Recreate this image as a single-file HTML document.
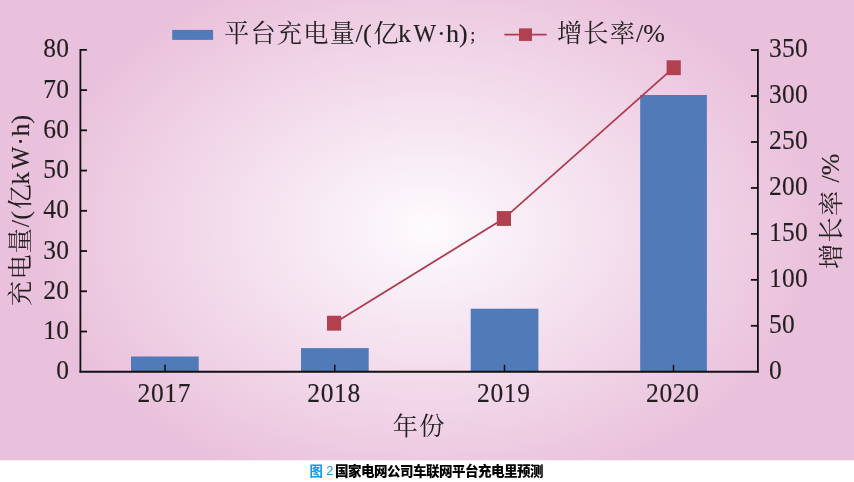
<!DOCTYPE html>
<html lang="zh"><head><meta charset="utf-8"><title>图2 国家电网公司车联网平台充电量预测</title>
<style>
html,body{margin:0;padding:0;background:#fff;}
body{width:854px;height:482px;overflow:hidden;font-family:"Liberation Serif",serif;}
svg{display:block;will-change:transform;}
</style></head><body>
<svg width="854" height="482" viewBox="0 0 854 482">
<defs><radialGradient id="bg" gradientUnits="userSpaceOnUse" cx="427" cy="228" r="390" gradientTransform="translate(427,228) scale(1,0.6974) translate(-427,-228)"><stop offset="0" stop-color="#fdfbfe"/><stop offset="1" stop-color="#eac1dc"/></radialGradient></defs>
<rect x="0" y="0" width="854" height="482" fill="#fff"/>
<rect x="0" y="0" width="854" height="460.3" fill="url(#bg)"/>
<g fill="#517bb8">
<rect x="131.0" y="356.5" width="67.7" height="15.25"/>
<rect x="301.0" y="348.1" width="67.7" height="23.65"/>
<rect x="470.7" y="308.7" width="67.7" height="63.05"/>
<rect x="640.2" y="95.0" width="66.7" height="276.75"/>
</g>
<g stroke="#111111" stroke-width="1.8" fill="none">
<path d="M80.4,49.05 V372.60"/>
<path d="M757.9,49.05 V372.60"/>
<path d="M79.60,371.75 H758.70"/>
<path d="M80.4,49.85 h6.6"/>
<path d="M80.4,90.09 h6.6"/>
<path d="M80.4,130.32 h6.6"/>
<path d="M80.4,170.56 h6.6"/>
<path d="M80.4,210.80 h6.6"/>
<path d="M80.4,251.04 h6.6"/>
<path d="M80.4,291.27 h6.6"/>
<path d="M80.4,331.51 h6.6"/>
<path d="M757.9,50.10 h-7"/>
<path d="M757.9,96.05 h-7"/>
<path d="M757.9,142.00 h-7"/>
<path d="M757.9,187.95 h-7"/>
<path d="M757.9,233.90 h-7"/>
<path d="M757.9,279.85 h-7"/>
<path d="M757.9,325.80 h-7"/>
<path d="M165.0,371.75 v-6.9" stroke-width="1.5"/>
<path d="M334.8,371.75 v-6.9" stroke-width="1.5"/>
<path d="M504.5,371.75 v-6.9" stroke-width="1.5"/>
<path d="M673.5,371.75 v-6.9" stroke-width="1.5"/>
</g>
<polyline points="334.1,323.2 503.9,218.5 673.7,67.7" fill="none" stroke="#b03a4e" stroke-width="1.8"/>
<g fill="#b2414f">
<rect x="327.00" y="315.75" width="14.2" height="14.9"/>
<rect x="496.80" y="211.05" width="14.2" height="14.9"/>
<rect x="666.60" y="60.25" width="14.2" height="14.9"/>
</g>
<g fill="#231f20">
<text font-family="Liberation Serif" font-size="25.5" transform="translate(0,57.45) scale(1,1.075)" x="43.25 56.35" y="0" stroke="#231f20" stroke-width="0.14">80</text>
<text font-family="Liberation Serif" font-size="25.5" transform="translate(0,97.69) scale(1,1.075)" x="43.25 56.35" y="0" stroke="#231f20" stroke-width="0.14">70</text>
<text font-family="Liberation Serif" font-size="25.5" transform="translate(0,137.92) scale(1,1.075)" x="43.25 56.35" y="0" stroke="#231f20" stroke-width="0.14">60</text>
<text font-family="Liberation Serif" font-size="25.5" transform="translate(0,178.16) scale(1,1.075)" x="43.25 56.35" y="0" stroke="#231f20" stroke-width="0.14">50</text>
<text font-family="Liberation Serif" font-size="25.5" transform="translate(0,218.40) scale(1,1.075)" x="43.25 56.35" y="0" stroke="#231f20" stroke-width="0.14">40</text>
<text font-family="Liberation Serif" font-size="25.5" transform="translate(0,258.64) scale(1,1.075)" x="43.25 56.35" y="0" stroke="#231f20" stroke-width="0.14">30</text>
<text font-family="Liberation Serif" font-size="25.5" transform="translate(0,298.88) scale(1,1.075)" x="43.25 56.35" y="0" stroke="#231f20" stroke-width="0.14">20</text>
<text font-family="Liberation Serif" font-size="25.5" transform="translate(0,339.11) scale(1,1.075)" x="43.25 56.35" y="0" stroke="#231f20" stroke-width="0.14">10</text>
<text font-family="Liberation Serif" font-size="25.5" transform="translate(0,379.35) scale(1,1.075)" x="56.35" y="0" stroke="#231f20" stroke-width="0.14">0</text>
<text font-family="Liberation Serif" font-size="25.5" transform="translate(0,57.35) scale(1,1.075)" x="768.90 782.00 795.10" y="0" stroke="#231f20" stroke-width="0.14">350</text>
<text font-family="Liberation Serif" font-size="25.5" transform="translate(0,103.34) scale(1,1.075)" x="768.90 782.00 795.10" y="0" stroke="#231f20" stroke-width="0.14">300</text>
<text font-family="Liberation Serif" font-size="25.5" transform="translate(0,149.32) scale(1,1.075)" x="768.90 782.00 795.10" y="0" stroke="#231f20" stroke-width="0.14">250</text>
<text font-family="Liberation Serif" font-size="25.5" transform="translate(0,195.31) scale(1,1.075)" x="768.90 782.00 795.10" y="0" stroke="#231f20" stroke-width="0.14">200</text>
<text font-family="Liberation Serif" font-size="25.5" transform="translate(0,241.29) scale(1,1.075)" x="768.90 782.00 795.10" y="0" stroke="#231f20" stroke-width="0.14">150</text>
<text font-family="Liberation Serif" font-size="25.5" transform="translate(0,287.28) scale(1,1.075)" x="768.90 782.00 795.10" y="0" stroke="#231f20" stroke-width="0.14">100</text>
<text font-family="Liberation Serif" font-size="25.5" transform="translate(0,333.26) scale(1,1.075)" x="768.90 782.00" y="0" stroke="#231f20" stroke-width="0.14">50</text>
<text font-family="Liberation Serif" font-size="25.5" transform="translate(0,379.25) scale(1,1.075)" x="768.90" y="0" stroke="#231f20" stroke-width="0.14">0</text>
<text font-family="Liberation Serif" font-size="25.5" transform="translate(0,401.60) scale(1,1.075)" x="137.53 150.93 164.33 177.73" y="0" stroke="#231f20" stroke-width="0.14">2017</text>
<text font-family="Liberation Serif" font-size="25.5" transform="translate(0,401.60) scale(1,1.075)" x="307.32 320.72 334.12 347.52" y="0" stroke="#231f20" stroke-width="0.14">2018</text>
<text font-family="Liberation Serif" font-size="25.5" transform="translate(0,401.60) scale(1,1.075)" x="477.02 490.42 503.82 517.23" y="0" stroke="#231f20" stroke-width="0.14">2019</text>
<text font-family="Liberation Serif" font-size="25.5" transform="translate(0,401.60) scale(1,1.075)" x="646.02 659.42 672.82 686.23" y="0" stroke="#231f20" stroke-width="0.14">2020</text>
</g>
<rect x="172.2" y="29.9" width="40.9" height="10.0" fill="#517bb8"/>
<path d="M504.4,34.5 H546.6" stroke="#b03a4e" stroke-width="1.75"/>
<rect x="519" y="28.35" width="13" height="12.6" fill="#b2414f"/>
<g fill="#231f20" aria-label="平台充电量/(亿kW·h)；"><title>平台充电量/(亿kW·h)；</title>
<text font-family="'Liberation Serif','Noto Serif CJK SC',serif" font-size="25.2" x="223.93 250.38 276.82 303.27 329.73" y="42.10">平台充电量</text>
<text font-family="Liberation Serif" font-size="26.0" x="355.40 363.00" y="42.00" stroke="#231f20" stroke-width="0.14">/(</text><text font-family="'Liberation Serif','Noto Serif CJK SC',serif" font-size="25.2" x="373.57" y="42.10">亿</text><text font-family="Liberation Serif" font-size="26.0" x="398.00" y="42.00" stroke="#231f20" stroke-width="0.14">k</text><text font-family="Liberation Serif" font-size="26.0" stroke="#231f20" stroke-width="0.14" transform="translate(413.40,42.00) scale(0.92,1)">W</text><text font-family="Liberation Serif" font-size="26.0" x="436.90 446.10 459.10" y="42.00" stroke="#231f20" stroke-width="0.14">·h)</text>
<text font-family="Liberation Serif" font-size="18.5" x="470.20" y="41.30" stroke="#231f20" stroke-width="0.14">;</text>
</g>
<g fill="#231f20" aria-label="增长率/%"><title>增长率/%</title>
<text font-family="'Liberation Serif','Noto Serif CJK SC',serif" font-size="25.2" x="556.92 583.37 609.82" y="42.10">增长率</text>
<text font-family="Liberation Serif" font-size="26.0" x="636.10 643.20" y="42.00" stroke="#231f20" stroke-width="0.14">/%</text>
</g>
<g fill="#231f20" aria-label="年份"><title>年份</title><text font-family="'Liberation Serif','Noto Serif CJK SC',serif" font-size="25.2" x="392.85 419.15" y="435.40">年份</text></g>
<g fill="#231f20" aria-label="充电量/(亿kW·h)" transform="translate(29.0,305) rotate(-90)"><title>充电量/(亿kW·h)</title>
<text font-family="'Liberation Serif','Noto Serif CJK SC',serif" font-size="25.2" x="-1.01 25.44 51.89" y="0.10">充电量</text>
<text font-family="Liberation Serif" font-size="26.0" x="77.72 85.32" y="0.00" stroke="#231f20" stroke-width="0.14">/(</text><text font-family="'Liberation Serif','Noto Serif CJK SC',serif" font-size="25.2" x="95.88" y="0.10">亿</text><text font-family="Liberation Serif" font-size="26.0" x="120.32" y="0.00" stroke="#231f20" stroke-width="0.14">k</text><text font-family="Liberation Serif" font-size="26.0" stroke="#231f20" stroke-width="0.14" transform="translate(135.72,0.00) scale(0.92,1)">W</text><text font-family="Liberation Serif" font-size="26.0" x="159.22 168.42 181.42" y="0.00" stroke="#231f20" stroke-width="0.14">·h)</text>
</g>
<g fill="#231f20" aria-label="增长率 /%" transform="translate(839.4,268) rotate(-90)"><title>增长率 /%</title>
<text font-family="'Liberation Serif','Noto Serif CJK SC',serif" font-size="25.2" x="-0.98 25.47 51.92" y="0.10">增长率</text>
<text font-family="Liberation Serif" font-size="26.0" x="85.64 92.74" y="0.00" stroke="#231f20" stroke-width="0.14">/%</text>
</g>
<g fill="#1b95e0" aria-label="图 2"><title>图 2</title><text font-family="'Liberation Sans','Noto Sans CJK SC',sans-serif" font-size="13.4" font-weight="bold" x="309.40" y="476.00">图</text><text x="326.3" y="474.7" font-family="Liberation Sans" font-size="13">2</text></g>
<g fill="#000" aria-label="国家电网公司车联网平台充电里预测"><title>国家电网公司车联网平台充电里预测</title><text font-family="'Liberation Sans','Noto Sans CJK SC',sans-serif" font-size="13.5" font-weight="900" x="335.04 348.04 361.04 374.04 387.04 400.04 413.04 426.04 439.04 452.04 465.04 478.04 491.04 504.04 517.04 530.04" y="476.20">国家电网公司车联网平台充电里预测</text></g>
</svg>
</body></html>
